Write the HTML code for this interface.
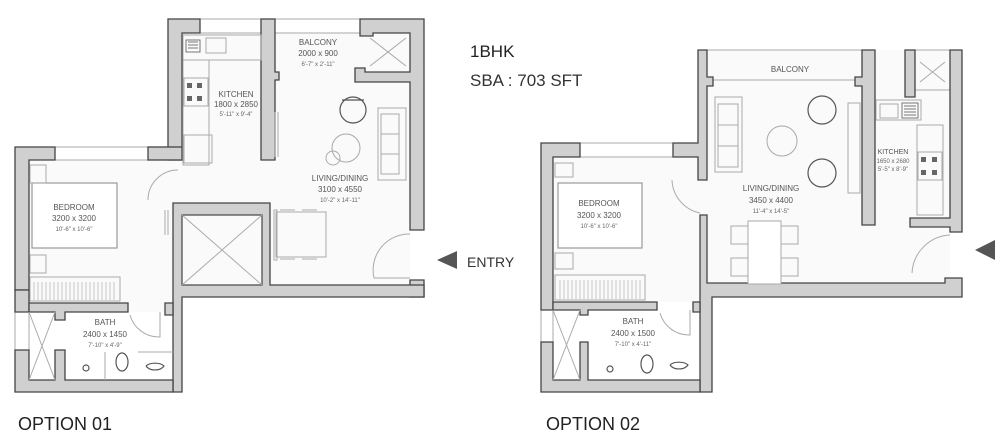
<!DOCTYPE html>
<html><head><meta charset="utf-8"><style>
html,body{margin:0;padding:0;background:#fff}
svg{display:block}
text{font-family:"Liberation Sans",sans-serif}
.w{fill:#d0d0d0;stroke:#444;stroke-width:1.3}
.f{fill:none;stroke:#aaa;stroke-width:1}
.fd{fill:none;stroke:#555;stroke-width:1.2}
.lb{font-size:8px;fill:#555;text-anchor:middle}
.sm{font-size:6px;fill:#666;text-anchor:middle}
</style></head><body>
<svg width="1000" height="440" viewBox="0 0 1000 440" xmlns="http://www.w3.org/2000/svg">
<!-- ============ OPTION 01 ============ -->
<path d="M182 33 H410 V285 H270 V297 H182 V312 H29 V160 H182 Z" fill="#fafafa"/>
<rect x="200" y="19" width="61" height="14" class="f"/>
<rect x="275" y="19" width="85" height="14" class="f"/>
<rect x="55" y="147" width="93" height="13" class="f"/>
<rect x="15" y="312" width="14" height="38" class="f"/>
<path class="w" d="M168 19 H200 V33 H182 V160 H168 Z"/>
<rect class="w" x="148" y="147" width="34" height="13"/>
<path class="w" d="M261 19 H275 V72 H279 V80 H275 V160 H261 Z"/>
<!-- balcony store -->
<rect x="365" y="33" width="45" height="39" fill="#fafafa"/>
<path class="w" d="M360 19 H424 V230 H410 V82 H355 V68 H365 V72 H410 V33 H373 V36 H360 Z"/>
<path class="f" d="M370 38 L406 66 M406 38 L370 66"/>
<path class="w" d="M410 280 H424 V297 H410 Z"/>
<path class="w" d="M173 203 H270 V285 H424 V297 H182 V392 H173 Z"/>
<rect x="182" y="215" width="80" height="70" fill="#fafafa" stroke="#444" stroke-width="1.2"/>
<path class="f" d="M182 215 L262 285 M262 215 L182 285"/>
<path class="w" d="M15 147 H55 V160 H29 V290 H15 Z"/>
<path class="w" d="M15 290 H29 V312 H15 Z"/>
<path class="w" d="M29 303 H128 V312 H65 V320 H55 V312 H29 Z"/>
<path class="w" d="M15 350 H29 V380 H55 V350 H65 V380 H173 V392 H15 Z"/>
<path class="w" d="M165 303 H173 V315 H165 Z"/>
<path class="f" d="M29 312 L55 380 M55 312 L29 380"/>
<rect x="183" y="35" width="78" height="25" class="f"/>
<rect x="186" y="40" width="14" height="12" fill="none" stroke="#777"/>
<path d="M188 42h10M188 45h10M188 48h10" stroke="#777"/>
<rect x="206" y="38" width="20" height="15" class="f"/>
<rect x="183" y="60" width="26" height="105" class="f"/>
<rect x="184" y="78" width="24" height="28" class="f"/>
<g fill="#666"><rect x="187" y="83" width="5" height="5"/><rect x="197" y="83" width="5" height="5"/><rect x="187" y="96" width="5" height="5"/><rect x="197" y="96" width="5" height="5"/></g>
<rect x="184" y="135" width="28" height="28" class="f"/>
<text class="lb" x="236" y="97">KITCHEN</text>
<text class="lb" x="236" y="107">1800 x 2850</text>
<text class="sm" x="236" y="116">5'-11" x 9'-4"</text>
<text class="lb" x="318" y="45">BALCONY</text>
<text class="lb" x="318" y="56">2000 x 900</text>
<text class="sm" x="318" y="66">6'-7" x 2'-11"</text>
<path class="fd" d="M340 110 a13 13 0 1 1 26 0 a13 13 0 0 1 -26 0 M342 100 h22"/>
<rect x="378" y="108" width="28" height="72" class="f"/>
<rect x="381" y="114" width="18" height="60" class="f"/>
<path class="f" d="M381 134h18M381 154h18"/>
<circle cx="346" cy="148" r="14" class="f"/>
<circle cx="333" cy="158" r="7" class="f"/>
<rect x="276" y="212" width="50" height="45" class="f"/>
<path class="f" d="M280 210h15M302 210h15M280 259h15M302 259h15"/>
<rect x="274" y="210" width="3" height="50" fill="none" stroke="#aaa"/>
<path class="f" d="M165 210 v25 M168 210 v25"/>
<path class="f" d="M275 112 v45 M278 112 v45"/>
<path class="f" d="M374 278 a36 36 0 0 1 36 -44 M374 278 h36"/>
<path class="f" d="M148 200 a30 30 0 0 1 30 -30"/>
<text class="lb" x="340" y="181">LIVING/DINING</text>
<text class="lb" x="340" y="192">3100 x 4550</text>
<text class="sm" x="340" y="202">10'-2" x 14'-11"</text>
<rect x="32" y="183" width="85" height="65" fill="#fff" stroke="#999" stroke-width="1.2"/>
<rect x="30" y="165" width="16" height="18" class="f"/>
<rect x="30" y="255" width="16" height="18" class="f"/>
<rect x="30" y="277" width="90" height="24" class="f"/>
<path d="M34 282 V300 M38 282 V300 M42 282 V300 M46 282 V300 M50 282 V300 M54 282 V300 M58 282 V300 M62 282 V300 M66 282 V300 M70 282 V300 M74 282 V300 M78 282 V300 M82 282 V300 M86 282 V300 M90 282 V300 M94 282 V300 M98 282 V300 M102 282 V300 M106 282 V300 M110 282 V300 M114 282 V300" stroke="#bbb" stroke-width="0.8"/>
<text class="lb" x="74" y="210">BEDROOM</text>
<text class="lb" x="74" y="221">3200 x 3200</text>
<text class="sm" x="74" y="231">10'-6" x 10'-6"</text>
<text class="lb" x="105" y="325">BATH</text>
<text class="lb" x="105" y="337">2400 x 1450</text>
<text class="sm" x="105" y="347">7'-10" x 4'-9"</text>
<path class="f" d="M130 315 a30 30 0 0 0 30 22 v-25"/>
<path class="f" d="M105 352 v28 M138 352 h35"/>
<ellipse cx="122" cy="362" rx="6" ry="9" class="fd"/>
<path class="fd" d="M146 366 a10 7 0 0 0 18 0 a10 5 0 0 0 -18 0"/>
<circle cx="86" cy="368" r="3" class="fd"/>
<!-- ============ OPTION 02 ============ -->
<path d="M707 50 H950 V283 H712 V302 H553 V157 H707 Z" fill="#fafafa"/>
<rect x="707" y="50" width="155" height="30" class="f"/>
<rect x="580" y="143" width="93" height="14" class="f"/>
<rect x="541" y="310" width="12" height="32" class="f"/>
<rect x="915" y="50" width="35" height="40" class="f"/>
<path class="f" d="M920 62 L945 82 M945 62 L920 82"/>
<path class="w" d="M698 50 H707 V77 H713 V86 H707 V180 H698 V157 H673 V143 H698 Z"/>
<path class="w" d="M541 143 H580 V157 H553 V310 H541 Z"/>
<path class="w" d="M862 50 H875 V225 H862 V86 H855 V77 H862 Z"/>
<path class="w" d="M905 50 H915 V97 H905 Z"/>
<path class="w" d="M950 50 H962 V232 H950 V227 H910 V218 H950 Z"/>
<path class="w" d="M945 278 H962 V297 H712 V392 H700 V215 H707 V283 H945 Z"/>
<path class="w" d="M553 302 H657 V310 H588 V315 H580 V310 H553 Z"/>
<path class="w" d="M541 342 H553 V380 H580 V342 H588 V380 H700 V392 H541 Z"/>
<path class="w" d="M693 302 H700 V312 H693 Z"/>
<path class="f" d="M553 310 L580 380 M580 310 L553 380"/>
<text class="lb" x="790" y="72">BALCONY</text>
<rect x="715" y="97" width="27" height="75" class="f"/>
<rect x="718" y="104" width="20" height="63" class="f"/>
<path class="f" d="M718 125h20M718 146h20"/>
<circle cx="782" cy="141" r="15" class="f"/>
<circle cx="822" cy="110" r="14" class="fd"/>
<circle cx="822" cy="173" r="14" class="fd"/>
<rect x="848" y="103" width="12" height="90" class="f"/>
<rect x="748" y="221" width="33" height="63" fill="#fff" stroke="#aaa"/>
<rect x="731" y="226" width="17" height="18" class="f"/><rect x="731" y="258" width="17" height="18" class="f"/>
<rect x="781" y="226" width="17" height="18" class="f"/><rect x="781" y="258" width="17" height="18" class="f"/>
<text class="lb" x="771" y="191">LIVING/DINING</text>
<text class="lb" x="771" y="203">3450 x 4400</text>
<text class="sm" x="771" y="213">11'-4" x 14'-5"</text>
<path class="f" d="M672 180 a35 35 0 0 0 28 33"/>
<path class="f" d="M912 273 a40 40 0 0 1 38 -38"/>
<rect x="876" y="100" width="45" height="20" class="f"/>
<rect x="902" y="103" width="16" height="15" fill="none" stroke="#777"/>
<path d="M904 106h12M904 109h12M904 112h12M904 115h12" stroke="#777"/>
<rect x="880" y="104" width="18" height="14" class="f"/>
<rect x="917" y="125" width="26" height="90" class="f"/>
<rect x="918" y="152" width="24" height="28" class="f"/>
<g fill="#666"><rect x="921" y="157" width="5" height="5"/><rect x="932" y="157" width="5" height="5"/><rect x="921" y="170" width="5" height="5"/><rect x="932" y="170" width="5" height="5"/></g>
<text class="lb" x="893" y="154" style="font-size:7px">KITCHEN</text>
<text class="sm" x="893" y="163">1650 x 2680</text>
<text class="sm" x="893" y="171">5'-5" x 8'-9"</text>
<rect x="558" y="183" width="84" height="65" fill="#fff" stroke="#999" stroke-width="1.2"/>
<rect x="555" y="163" width="18" height="14" class="f"/>
<rect x="555" y="253" width="18" height="16" class="f"/>
<rect x="555" y="275" width="90" height="25" class="f"/>
<path d="M560 280 V299 M564 280 V299 M568 280 V299 M572 280 V299 M576 280 V299 M580 280 V299 M584 280 V299 M588 280 V299 M592 280 V299 M596 280 V299 M600 280 V299 M604 280 V299 M608 280 V299 M612 280 V299 M616 280 V299 M620 280 V299 M624 280 V299 M628 280 V299 M632 280 V299 M636 280 V299 M640 280 V299" stroke="#bbb" stroke-width="0.8"/>
<text class="lb" x="599" y="206">BEDROOM</text>
<text class="lb" x="599" y="218">3200 x 3200</text>
<text class="sm" x="599" y="228">10'-6" x 10'-6"</text>
<text class="lb" x="633" y="324">BATH</text>
<text class="lb" x="633" y="336">2400 x 1500</text>
<text class="sm" x="633" y="346">7'-10" x 4'-11"</text>
<path class="f" d="M660 313 a30 30 0 0 0 30 22 v-25"/>
<ellipse cx="647" cy="364" rx="6" ry="9" class="fd"/>
<path class="fd" d="M670 365 a10 7 0 0 0 18 0 a10 5 0 0 0 -18 0"/>
<circle cx="610" cy="369" r="3" class="fd"/>
<text x="470" y="57" font-size="17" fill="#222">1BHK</text>
<text x="470" y="86" font-size="17" fill="#333">SBA :  703 SFT</text>
<polygon points="437,260 457,251 457,269" fill="#555"/>
<text x="467" y="267" font-size="14" fill="#333">ENTRY</text>
<polygon points="975,250 995,240 995,260" fill="#555"/>
<text x="18" y="430" font-size="18" fill="#222">OPTION 01</text>
<text x="546" y="430" font-size="18" fill="#222">OPTION 02</text>
</svg>
</body></html>
